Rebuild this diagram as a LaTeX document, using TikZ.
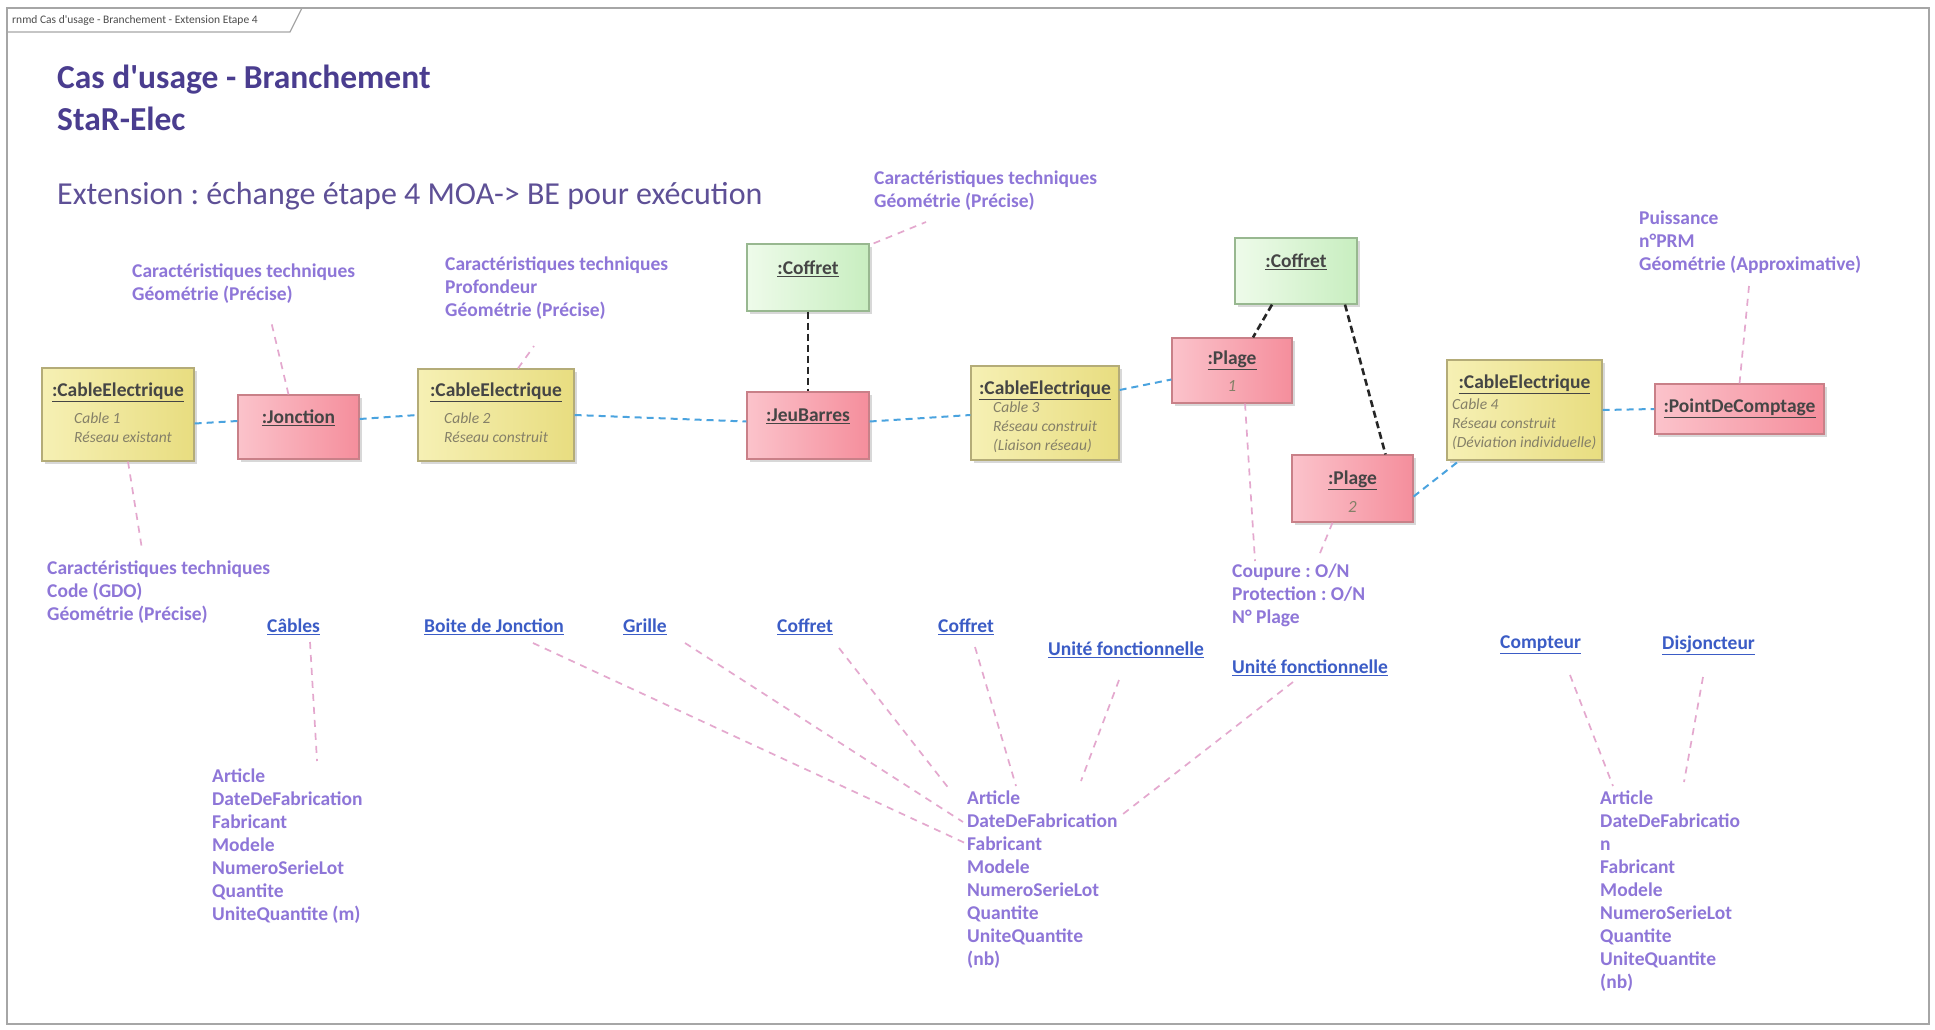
\documentclass[tikz,border=0pt]{standalone}
\usepackage{fontspec}
\setmainfont{Carlito}
\usetikzlibrary{shadows,calc}
\definecolor{notec}{HTML}{8E76D8}
\definecolor{linkc}{HTML}{3B5CC6}
\definecolor{titlec}{HTML}{4A3D8F}
\definecolor{subc}{HTML}{5E5096}
\definecolor{bluec}{HTML}{4AA3DF}
\definecolor{pinkc}{HTML}{E4A8CE}
\definecolor{ylight}{HTML}{F6F0B4}
\definecolor{ydark}{HTML}{E8DD80}
\definecolor{ybord}{HTML}{B4AC78}
\definecolor{plight}{HTML}{FBC3CB}
\definecolor{pdark}{HTML}{F58E9C}
\definecolor{pbord}{HTML}{C98088}
\definecolor{glight}{HTML}{EEFBEA}
\definecolor{gdark}{HTML}{C8EEC0}
\definecolor{gbord}{HTML}{98B890}
\definecolor{boxtxt}{HTML}{454545}
\definecolor{itxt}{HTML}{858068}
\frenchspacing
\begin{document}
\frenchspacing
\begin{tikzpicture}[x=1pt,y=-1pt,
  box/.style={draw=#1, line width=1.2pt, inner sep=0pt,
    drop shadow={shadow xshift=3pt, shadow yshift=-3pt, opacity=0.25, fill=black!60}},
  ybox/.style={box=ybord, left color=ylight, right color=ydark},
  pbox/.style={box=pbord, left color=plight, right color=pdark},
  gbox/.style={box=gbord, left color=glight, right color=gdark},
  btitle/.style={inner sep=0pt, text=boxtxt, font=\fontsize{19.5}{22}\selectfont\bfseries},
  bital/.style={inner sep=0pt, text=itxt, align=left, anchor=north west, font=\fontsize{15.5}{19}\selectfont\itshape},
  bnum/.style={inner sep=0pt, text=itxt, font=\fontsize{17}{18}\selectfont\itshape},
  note/.style={inner sep=0pt, text=notec, align=left, anchor=north west, font=\fontsize{19.5}{23}\selectfont\bfseries},
  lnk/.style={inner sep=0pt, text=linkc, anchor=west, font=\fontsize{19.5}{23}\selectfont\bfseries},
  bluel/.style={draw=bluec, line width=2pt, dash pattern=on 7pt off 5pt},
  blackl/.style={draw=black!85, line width=2.6pt, dash pattern=on 7pt off 4pt},
  pinkl/.style={draw=pinkc, line width=1.7pt, dash pattern=on 7pt off 6pt}
]
\useasboundingbox (0,0) rectangle (1935,1029);
\fill[white] (0,0) rectangle (1935,1029);
% frame
\draw[gray!70, line width=1.5pt] (7,8) rectangle (1929,1024);
\draw[gray!70, line width=1.2pt] (7,32) -- (290,32) -- (302,8);
\node[inner sep=0pt, anchor=west, text=black!70, font=\fontsize{11.5}{12}\selectfont] (tab) at (12,20) {rnmd Cas d\textquotesingle usage - Branchement - Extension Etape 4};
% titles
\node[inner sep=0pt, anchor=west, text=titlec, font=\fontsize{33.5}{36}\selectfont\bfseries] (t1) at (57,80) {Cas d\textquotesingle usage - Branchement};
\node[inner sep=0pt, anchor=west, text=titlec, font=\fontsize{33.5}{36}\selectfont\bfseries] (t2) at (57,119) {StaR-Elec};
\node[inner sep=0pt, anchor=west, text=subc, font=\fontsize{32}{34}\selectfont] (t3) at (57,196) {Extension : échange étape 4 MOA-> BE pour exécution};

% boxes
\node[ybox, minimum width=152pt, minimum height=93pt] (c1) at (118,414.5) {};
\node[pbox, minimum width=121pt, minimum height=64pt] (jn) at (298.5,427) {};
\node[ybox, minimum width=156pt, minimum height=92pt] (c2) at (496,415) {};
\node[gbox, minimum width=122pt, minimum height=67pt] (cf1) at (808,277.5) {};
\node[pbox, minimum width=122pt, minimum height=67pt] (jb) at (808,425.5) {};
\node[ybox, minimum width=148pt, minimum height=94pt] (c3) at (1045,413) {};
\node[pbox, minimum width=120pt, minimum height=65pt] (p1) at (1232,370.5) {};
\node[gbox, minimum width=122pt, minimum height=66pt] (cf2) at (1296,271) {};
\node[pbox, minimum width=121pt, minimum height=67pt] (p2) at (1352.5,488.5) {};
\node[ybox, minimum width=155pt, minimum height=100pt] (c4) at (1524.5,410) {};
\node[pbox, minimum width=169pt, minimum height=50pt] (pdc) at (1739.5,409) {};

% box texts
\node[btitle] (c1t) at (118,392) {\underline{:CableElectrique}};
\node[bital] (c1i) at (74,413) {Cable 1\\[-0.5pt]Réseau existant};
\node[btitle] (jnt) at (298.5,418) {\underline{:Jonction}};
\node[btitle] (c2t) at (496,392) {\underline{:CableElectrique}};
\node[bital] (c2i) at (444,413) {Cable 2\\[-0.5pt]Réseau construit};
\node[btitle] (cf1t) at (808,269) {\underline{:Coffret}};
\node[btitle] (jbt) at (808,416) {\underline{:JeuBarres}};
\node[btitle] (c3t) at (1045,390) {\underline{:CableElectrique}};
\node[bital] (c3i) at (993,402) {Cable 3\\Réseau construit\\(Liaison réseau)};
\node[btitle] (p1t) at (1232,360) {\underline{:Plage}};
\node[bnum] (p1n) at (1232,386) {1};
\node[btitle] (cf2t) at (1296,262) {\underline{:Coffret}};
\node[btitle] (p2t) at (1352.5,480) {\underline{:Plage}};
\node[bnum] (p2n) at (1352.5,507) {2};
\node[btitle] (c4t) at (1524.5,384) {\underline{:CableElectrique}};
\node[bital] (c4i) at (1452,399) {Cable 4\\Réseau construit\\(Déviation individuelle)};
\node[btitle] (pdct) at (1739.5,408) {\underline{:PointDeComptage}};

% notes
\node[note] (ncf1) at (874,171) {Caractéristiques techniques\\Géométrie (Précise)};
\node[note] (njn) at (132,264) {Caractéristiques techniques\\Géométrie (Précise)};
\node[note] (nc2) at (445,257) {Caractéristiques techniques\\Profondeur\\Géométrie (Précise)};
\node[note] (npdc) at (1639,211) {Puissance\\n°PRM\\Géométrie (Approximative)};
\node[note] (nc1) at (47,561) {Caractéristiques techniques\\Code (GDO)\\Géométrie (Précise)};
\node[note] (npl) at (1232,564) {Coupure : O/N\\Protection : O/N\\N° Plage};
\node[note] (a1) at (212,769) {Article\\DateDeFabrication\\Fabricant\\Modele\\NumeroSerieLot\\Quantite\\UniteQuantite (m)};
\node[note] (a2) at (967,791) {Article\\DateDeFabrication\\Fabricant\\Modele\\NumeroSerieLot\\Quantite\\UniteQuantite\\(nb)};
\node[note] (a3) at (1600,791) {Article\\DateDeFabricatio\\n\\Fabricant\\Modele\\NumeroSerieLot\\Quantite\\UniteQuantite\\(nb)};

% links
\node[lnk] (lcab) at (267,627) {\underline{Câbles}};
\node[lnk] (lbj) at (424,627) {\underline{Boite de Jonction}};
\node[lnk] (lgr) at (623,627) {\underline{Grille}};
\node[lnk] (lcf1) at (777,627) {\underline{Coffret}};
\node[lnk] (lcf2) at (938,627) {\underline{Coffret}};
\node[lnk] (luf1) at (1048,650) {\underline{Unité fonctionnelle}};
\node[lnk] (luf2) at (1232,668) {\underline{Unité fonctionnelle}};
\node[lnk] (lcpt) at (1500,645) {\underline{Compteur}};
\node[lnk] (ldj) at (1662,645) {\underline{Disjoncteur}};

% blue connectors
\draw[bluel] ([yshift=-9pt]c1.east) -- ([yshift=6pt]jn.west);
\draw[bluel] ([yshift=8pt]jn.east) -- (c2.west);
\draw[bluel] (c2.east) -- ([yshift=4pt]jb.west);
\draw[bluel] ([yshift=4pt]jb.east) -- ([yshift=-2pt]c3.west);
\draw[bluel] ([yshift=23pt]c3.east) -- ([yshift=-9pt]p1.west);
\draw[bluel] ([yshift=-8pt]p2.east) -- ([xshift=13pt]c4.south west);
\draw[bluel] (c4.east) -- (pdc.west);

% black connectors
\draw[blackl] (cf1.south) -- (jb.north);
\draw[blackl] ([xshift=-24pt]cf2.south) -- ([xshift=21pt]p1.north);
\draw[blackl] ([xshift=49pt]cf2.south) -- ([xshift=33pt]p2.north);

% pink connectors (note ends)
\coordinate (ejn) at (271,321);
\coordinate (ec2) at (534,346);
\coordinate (ecf1) at (926,222);
\coordinate (ec1) at (142,549);
\coordinate (ep1) at (1255,561);
\coordinate (ep2) at (1318,558);
\coordinate (epdc) at (1749,286);
\draw[pinkl] ([xshift=-10pt]jn.north) -- (ejn);
\draw[pinkl] ([xshift=22pt]c2.north) -- (ec2);
\draw[pinkl] ([xshift=4pt]cf1.north east) -- (ecf1);
\draw[pinkl] ([xshift=10pt]c1.south) -- (ec1);
\draw[pinkl] ([xshift=13pt]p1.south) -- (ep1);
\draw[pinkl] ([xshift=-20pt]p2.south) -- (ep2);
\draw[pinkl] (pdc.north) -- (epdc);

\coordinate (scab) at (310,642);  \coordinate (ecab) at (317,761);
\coordinate (sbj) at (533,643);   \coordinate (ebj) at (965,843);
\coordinate (sgr) at (685,643);   \coordinate (egr) at (963,822);
\coordinate (scf1) at (839,648);  \coordinate (ecf1b) at (950,790);
\coordinate (scf2) at (975,647);  \coordinate (ecf2b) at (1016,786);
\coordinate (suf1) at (1119,680); \coordinate (euf1) at (1081,781);
\coordinate (suf2) at (1293,682); \coordinate (euf2) at (1123,814);
\coordinate (scpt) at (1570,675); \coordinate (ecpt) at (1613,786);
\coordinate (sdj) at (1703,677);  \coordinate (edj) at (1684,782);
\draw[pinkl] (scab) -- (ecab);
\draw[pinkl] (sbj) -- (ebj);
\draw[pinkl] (sgr) -- (egr);
\draw[pinkl] (scf1) -- (ecf1b);
\draw[pinkl] (scf2) -- (ecf2b);
\draw[pinkl] (suf1) -- (euf1);
\draw[pinkl] (suf2) -- (euf2);
\draw[pinkl] (scpt) -- (ecpt);
\draw[pinkl] (sdj) -- (edj);
\end{tikzpicture}
\end{document}
